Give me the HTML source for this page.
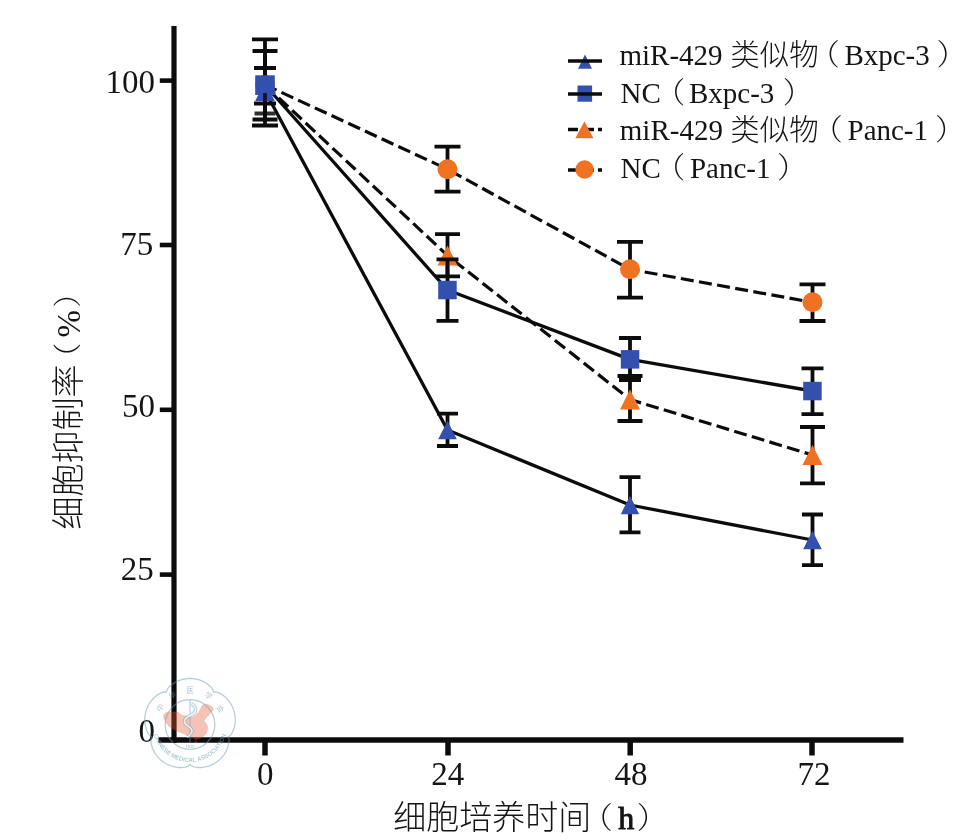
<!DOCTYPE html>
<html><head><meta charset="utf-8"><style>
html,body{margin:0;padding:0;background:#fff;}
body{width:975px;height:840px;overflow:hidden;}
svg{display:block;}
</style></head><body>
<svg width="975" height="840" viewBox="0 0 975 840">
<rect width="975" height="840" fill="#fff"/>
<path d="M174,26V743" stroke="#0c0c0c" stroke-width="5.2"/>
<path d="M158.5,740H903.5" stroke="#0c0c0c" stroke-width="5.6"/>
<path d="M159.8,80.6H174" stroke="#0c0c0c" stroke-width="4.6"/>
<path d="M159.8,245H174" stroke="#0c0c0c" stroke-width="4.6"/>
<path d="M159.8,409.8H174" stroke="#0c0c0c" stroke-width="4.6"/>
<path d="M159.8,574.6H174" stroke="#0c0c0c" stroke-width="4.6"/>
<path d="M265,740V755.5" stroke="#0c0c0c" stroke-width="5.5"/>
<path d="M448,740V755.5" stroke="#0c0c0c" stroke-width="5.5"/>
<path d="M630.2,740V755.5" stroke="#0c0c0c" stroke-width="5.5"/>
<path d="M812,740V755.5" stroke="#0c0c0c" stroke-width="5.5"/>
<path d="M265,84.8L447.5,169.2" fill="none" stroke="#0c0c0c" stroke-width="3.2" stroke-dasharray="13 5.4" stroke-dashoffset="0.3"/>
<path d="M447.5,169.2L630,269.3" fill="none" stroke="#0c0c0c" stroke-width="3.2" stroke-dasharray="13 5.4" stroke-dashoffset="15.6"/>
<path d="M630,269.3L812.5,302.3" fill="none" stroke="#0c0c0c" stroke-width="3.2" stroke-dasharray="13 5.4" stroke-dashoffset="3.5"/>
<path d="M265,85L447.5,255.5" fill="none" stroke="#0c0c0c" stroke-width="3.2" stroke-dasharray="13 5.4" stroke-dashoffset="-0.4"/>
<path d="M447.5,255.5L630,399.5" fill="none" stroke="#0c0c0c" stroke-width="3.2" stroke-dasharray="13 5.4" stroke-dashoffset="10.5"/>
<path d="M630,399.5L812.5,455" fill="none" stroke="#0c0c0c" stroke-width="3.2" stroke-dasharray="13 5.4" stroke-dashoffset="1.5"/>
<polyline points="265,85 447.5,290 630,359.4 812.5,391" fill="none" stroke="#0c0c0c" stroke-width="3.3" stroke-linejoin="round"/>
<polyline points="265,91 447.5,430 630,505 812.5,540" fill="none" stroke="#0c0c0c" stroke-width="3.3" stroke-linejoin="round"/>
<path d="M265,39.4V125.5M252.0,39.4H278.0M252.0,125.5H278.0" stroke="#0c0c0c" stroke-width="3.8" fill="none"/>
<path d="M447.5,146.7V191.7M434.5,146.7H460.5M434.5,191.7H460.5" stroke="#0c0c0c" stroke-width="3.8" fill="none"/>
<path d="M630,241.9V297.6M617.0,241.9H643.0M617.0,297.6H643.0" stroke="#0c0c0c" stroke-width="3.8" fill="none"/>
<path d="M812.5,284.3V321M799.5,284.3H825.5M799.5,321H825.5" stroke="#0c0c0c" stroke-width="3.8" fill="none"/>
<circle cx="265" cy="84.8" r="10.0" fill="#ef7222"/>
<circle cx="447.5" cy="169.2" r="10.0" fill="#ef7222"/>
<circle cx="630" cy="269.3" r="10.0" fill="#ef7222"/>
<circle cx="812.5" cy="302.3" r="10.0" fill="#ef7222"/>
<path d="M265,51V119.5M252.5,51H277.5M252.5,119.5H277.5" stroke="#0c0c0c" stroke-width="3.8" fill="none"/>
<path d="M447.5,234.1V276.3M435.0,234.1H460.0M435.0,276.3H460.0" stroke="#0c0c0c" stroke-width="3.8" fill="none"/>
<path d="M630,376V421M617.5,376H642.5M617.5,421H642.5" stroke="#0c0c0c" stroke-width="3.8" fill="none"/>
<path d="M812.5,427V483.3M800.0,427H825.0M800.0,483.3H825.0" stroke="#0c0c0c" stroke-width="3.8" fill="none"/>
<polygon points="265.0,75.0 275.0,95.0 255.0,95.0" fill="#ef7222"/>
<polygon points="447.5,245.5 457.5,265.5 437.5,265.5" fill="#ef7222"/>
<polygon points="630.0,389.5 640.0,409.5 620.0,409.5" fill="#ef7222"/>
<polygon points="812.5,445.0 822.5,465.0 802.5,465.0" fill="#ef7222"/>
<path d="M265,68V103.5M254.0,68H276.0M254.0,103.5H276.0" stroke="#0c0c0c" stroke-width="3.8" fill="none"/>
<path d="M447.5,259.3V320.8M436.5,259.3H458.5M436.5,320.8H458.5" stroke="#0c0c0c" stroke-width="3.8" fill="none"/>
<path d="M630,338V380M619.0,338H641.0M619.0,380H641.0" stroke="#0c0c0c" stroke-width="3.8" fill="none"/>
<path d="M812.5,368.3V414.2M801.5,368.3H823.5M801.5,414.2H823.5" stroke="#0c0c0c" stroke-width="3.8" fill="none"/>
<rect x="255.2" y="75.3" width="19.6" height="19.6" fill="#3350ae"/>
<rect x="438.2" y="280.8" width="18.5" height="18.5" fill="#3350ae"/>
<rect x="620.8" y="350.1" width="18.5" height="18.5" fill="#3350ae"/>
<rect x="803.2" y="381.8" width="18.5" height="18.5" fill="#3350ae"/>
<path d="M447.5,413.7V446M437.0,413.7H458.0M437.0,446H458.0" stroke="#0c0c0c" stroke-width="3.8" fill="none"/>
<path d="M630,477.2V532.4M619.5,477.2H640.5M619.5,532.4H640.5" stroke="#0c0c0c" stroke-width="3.8" fill="none"/>
<path d="M812.5,514.5V565.2M802.0,514.5H823.0M802.0,565.2H823.0" stroke="#0c0c0c" stroke-width="3.8" fill="none"/>
<polygon points="265,81.5 274.8,101 255.2,101" fill="#3350ae"/>
<polygon points="447.5,420.8 456.8,439.2 438.2,439.2" fill="#3350ae"/>
<polygon points="630.0,495.8 639.2,514.2 620.8,514.2" fill="#3350ae"/>
<polygon points="812.5,530.8 821.8,549.2 803.2,549.2" fill="#3350ae"/>
<path d="M265,93V113.5M254.5,113.5H275.5" stroke="#0c0c0c" stroke-width="3.8" fill="none" opacity="0.85"/>
<polygon points="585,54.6 592,68.7 578,68.7" fill="#3350ae"/>
<path d="M568,61H602" stroke="#0c0c0c" stroke-width="3.4"/>
<rect x="577.5" y="85.5" width="14.6" height="16.2" fill="#3350ae"/>
<path d="M568,94H602" stroke="#0c0c0c" stroke-width="3.4"/>
<path d="M568,129.5H602" stroke="#0c0c0c" stroke-width="3.4" stroke-dasharray="10 4 12 4"/>
<polygon points="584.4,121.2 593.4,138.3 575.4,138.3" fill="#ef7222"/>
<path d="M568,170H602" stroke="#0c0c0c" stroke-width="3.4" stroke-dasharray="10 4 12 4"/>
<circle cx="584.6" cy="169.5" r="9.2" fill="#ef7222"/>
<text x="619.5" y="64.8" style='font-family:"Liberation Serif", serif;font-size:29px;font-weight:400' fill="#151515">miR-429</text>
<text x="730.3" y="64.8" style='font-family:"Noto Sans CJK SC", sans-serif;font-size:29.5px;font-weight:300' fill="#151515">类似物</text>
<text x="810.2" y="64.8" style='font-family:"Noto Serif CJK SC", serif;font-size:29.5px;font-weight:200' fill="#151515">（</text>
<text x="844.4" y="64.8" style='font-family:"Liberation Serif", serif;font-size:29px;font-weight:400' fill="#151515">Bxpc-3</text>
<text x="936.5" y="64.8" style='font-family:"Noto Serif CJK SC", serif;font-size:29.5px;font-weight:200' fill="#151515">）</text>
<text x="620.6" y="102.5" style='font-family:"Liberation Serif", serif;font-size:29px;font-weight:400' fill="#151515">NC</text>
<text x="655.8" y="102.5" style='font-family:"Noto Serif CJK SC", serif;font-size:29.5px;font-weight:200' fill="#151515">（</text>
<text x="689.0" y="102.5" style='font-family:"Liberation Serif", serif;font-size:29px;font-weight:400' fill="#151515">Bxpc-3</text>
<text x="782.8" y="102.5" style='font-family:"Noto Serif CJK SC", serif;font-size:29.5px;font-weight:200' fill="#151515">）</text>
<text x="619.8" y="140.3" style='font-family:"Liberation Serif", serif;font-size:29px;font-weight:400' fill="#151515">miR-429</text>
<text x="730.2" y="140.3" style='font-family:"Noto Sans CJK SC", sans-serif;font-size:29.5px;font-weight:300' fill="#151515">类似物</text>
<text x="813.3" y="140.3" style='font-family:"Noto Serif CJK SC", serif;font-size:29.5px;font-weight:200' fill="#151515">（</text>
<text x="847.5" y="140.3" style='font-family:"Liberation Serif", serif;font-size:29px;font-weight:400' fill="#151515">Panc-1</text>
<text x="935.0" y="140.3" style='font-family:"Noto Serif CJK SC", serif;font-size:29.5px;font-weight:200' fill="#151515">）</text>
<text x="620.6" y="177.5" style='font-family:"Liberation Serif", serif;font-size:29px;font-weight:400' fill="#151515">NC</text>
<text x="655.8" y="177.5" style='font-family:"Noto Serif CJK SC", serif;font-size:29.5px;font-weight:200' fill="#151515">（</text>
<text x="689.9" y="177.5" style='font-family:"Liberation Serif", serif;font-size:29px;font-weight:400' fill="#151515">Panc-1</text>
<text x="777.0" y="177.5" style='font-family:"Noto Serif CJK SC", serif;font-size:29.5px;font-weight:200' fill="#151515">）</text>
<text x="105.5" y="92.9" style='font-family:"Liberation Serif", serif;font-size:33px;font-weight:400' fill="#151515">100</text>
<text x="120.3" y="255" style='font-family:"Liberation Serif", serif;font-size:33px;font-weight:400' fill="#151515">75</text>
<text x="122.0" y="416.6" style='font-family:"Liberation Serif", serif;font-size:33px;font-weight:400' fill="#151515">50</text>
<text x="120.8" y="579.7" style='font-family:"Liberation Serif", serif;font-size:33px;font-weight:400' fill="#151515">25</text>
<text x="138.4" y="741.5" style='font-family:"Liberation Serif", serif;font-size:33px;font-weight:400' fill="#151515">0</text>
<text x="257.0" y="784.7" style='font-family:"Liberation Serif", serif;font-size:33px;font-weight:400' fill="#151515">0</text>
<text x="431.2" y="785" style='font-family:"Liberation Serif", serif;font-size:33px;font-weight:400' fill="#151515">24</text>
<text x="614.5" y="785" style='font-family:"Liberation Serif", serif;font-size:33px;font-weight:400' fill="#151515">48</text>
<text x="797.4" y="784.6" style='font-family:"Liberation Serif", serif;font-size:33px;font-weight:400' fill="#151515">72</text>
<text x="393.2" y="829" style='font-family:"Noto Sans CJK SC", sans-serif;font-size:33px;font-weight:300' fill="#151515">细胞培养时间</text>
<text x="582.7" y="828" style='font-family:"Noto Serif CJK SC", serif;font-size:30px;font-weight:200' fill="#151515">（</text>
<text x="618.3" y="829" style='font-family:"Liberation Serif", serif;font-size:32px;font-weight:400' fill="#151515" stroke="#151515" stroke-width="0.9">h</text>
<text x="636.7" y="828" style='font-family:"Noto Serif CJK SC", serif;font-size:30px;font-weight:200' fill="#151515">）</text>
<g transform="translate(80,0) rotate(-90)"><text x="-529.6" y="0" style='font-family:"Noto Sans CJK SC", sans-serif;font-size:33px;font-weight:300' fill="#151515">细胞抑制率</text>
<text x="-371.3" y="-2" style='font-family:"Noto Serif CJK SC", serif;font-size:28.5px;font-weight:200' fill="#151515">（</text>
<text x="-337.4" y="0" style='font-family:"Liberation Serif", serif;font-size:33px;font-weight:400' fill="#151515">%</text>
<text x="-307.5" y="-2" style='font-family:"Noto Serif CJK SC", serif;font-size:28.5px;font-weight:200' fill="#151515">）</text></g>
<g transform="translate(190,724.5)">
<defs>
<path id="wmTop" d="M-33,0 A33,33 0 0 1 33,0"/>
<path id="wmBot" d="M-37.5,0 A37.5,37.5 0 0 0 37.5,0"/>
</defs>
<path d="M-26.4,-9.6 L-24,-12 L-19.9,-12.6 L-12.1,-12.6 L-10,-10.8 L-7.4,-9 L-3,-8.5 L2.1,-7.2 L5.7,-9.6 L8.7,-12.6 L10.5,-15.6 L11.7,-18.5 L13.5,-20.3 L17.6,-20.3 L22.4,-17.4 L23.6,-15 L21.2,-12.6 L18.8,-9.6 L17,-7.8 L15.2,-5.5 L14,-3.7 L16.4,-0.7 L17.6,2.3 L17.6,5.3 L16.4,8.8 L14,11.2 L11.7,13 L8.7,14.2 L5.7,15.4 L4,14 L2.1,12.4 L-1.4,11.8 L-5,10 L-7.4,8.8 L-12.1,7 L-18.1,4.1 L-22.3,0.5 L-24.6,-3.1 L-26.4,-6.6Z" fill="#e15a32" opacity="0.36"/>
<ellipse cx="5.7" cy="17.2" rx="1.3" ry="1" fill="#e15a32" opacity="0.36"/>
<path d="M-26.4,-9.6 L-24,-12 L-19.9,-12.6 L-12.1,-12.6 L-10,-10.8 L-7.4,-9 L-3,-8.5 L2.1,-7.2 L5.7,-9.6 L8.7,-12.6 L10.5,-15.6 L11.7,-18.5 L13.5,-20.3 L17.6,-20.3 L22.4,-17.4 L23.6,-15 L21.2,-12.6 L18.8,-9.6 L17,-7.8 L15.2,-5.5 L14,-3.7 L16.4,-0.7 L17.6,2.3 L17.6,5.3 L16.4,8.8 L14,11.2 L11.7,13 L8.7,14.2 L5.7,15.4 L4,14 L2.1,12.4 L-1.4,11.8 L-5,10 L-7.4,8.8 L-12.1,7 L-18.1,4.1 L-22.3,0.5 L-24.6,-3.1 L-26.4,-6.6Z" fill="none" stroke="#e15a32" stroke-width="0.8" opacity="0.2"/>
<g opacity="0.5" stroke="#6ea0b4" fill="none">
<path d="M0.0,-46.0 L1.4,-46.0 L2.9,-45.9 L4.3,-45.7 L5.7,-45.5 L7.2,-45.2 L8.5,-44.8 L9.9,-44.4 L11.3,-43.9 L12.6,-43.3 L13.9,-42.7 L15.1,-42.0 L16.3,-41.2 L17.5,-40.4 L18.6,-39.6 L19.7,-38.6 L20.7,-37.7 L21.6,-36.6 L22.5,-35.4 L23.2,-34.2 L23.5,-32.4 L25.3,-32.6 L26.8,-32.3 L28.1,-31.9 L29.4,-31.3 L30.7,-30.7 L31.9,-29.9 L33.1,-29.1 L34.2,-28.3 L35.3,-27.4 L36.3,-26.4 L37.3,-25.3 L38.2,-24.3 L39.1,-23.1 L40.0,-22.0 L40.7,-20.8 L41.5,-19.5 L42.1,-18.2 L42.7,-16.9 L43.3,-15.6 L43.7,-14.2 L44.2,-12.8 L44.5,-11.4 L44.8,-10.0 L45.0,-8.6 L45.2,-7.2 L45.2,-5.7 L45.3,-4.3 L45.2,-2.8 L45.1,-1.4 L44.9,0.0 L44.6,1.4 L44.3,2.8 L43.9,4.1 L43.4,5.5 L42.8,6.8 L42.2,8.1 L41.5,9.3 L40.7,10.4 L39.7,11.5 L38.0,12.4 L38.9,14.0 L39.0,15.5 L39.0,16.9 L38.9,18.3 L38.6,19.7 L38.3,21.1 L37.9,22.4 L37.5,23.8 L36.9,25.1 L36.3,26.4 L35.6,27.6 L34.9,28.9 L34.1,30.1 L33.2,31.2 L32.3,32.3 L31.4,33.4 L30.4,34.4 L29.3,35.4 L28.2,36.3 L27.0,37.2 L25.8,38.0 L24.6,38.8 L23.4,39.5 L22.1,40.2 L20.8,40.7 L19.4,41.3 L18.1,41.7 L16.7,42.1 L15.3,42.4 L13.9,42.7 L12.5,42.9 L11.0,43.0 L9.6,43.0 L8.2,43.0 L6.8,42.8 L5.4,42.6 L4.0,42.3 L2.6,41.9 L1.3,41.3 L0.0,40.0 L-1.3,41.3 L-2.6,41.9 L-4.0,42.3 L-5.4,42.6 L-6.8,42.8 L-8.2,43.0 L-9.6,43.0 L-11.0,43.0 L-12.5,42.9 L-13.9,42.7 L-15.3,42.4 L-16.7,42.1 L-18.1,41.7 L-19.4,41.3 L-20.8,40.7 L-22.1,40.2 L-23.4,39.5 L-24.6,38.8 L-25.8,38.0 L-27.0,37.2 L-28.2,36.3 L-29.3,35.4 L-30.4,34.4 L-31.4,33.4 L-32.3,32.3 L-33.2,31.2 L-34.1,30.1 L-34.9,28.9 L-35.6,27.6 L-36.3,26.4 L-36.9,25.1 L-37.5,23.8 L-37.9,22.4 L-38.3,21.1 L-38.6,19.7 L-38.9,18.3 L-39.0,16.9 L-39.0,15.5 L-38.9,14.0 L-38.0,12.4 L-39.7,11.5 L-40.7,10.4 L-41.5,9.3 L-42.2,8.1 L-42.8,6.8 L-43.4,5.5 L-43.9,4.1 L-44.3,2.8 L-44.6,1.4 L-44.9,0.0 L-45.1,-1.4 L-45.2,-2.8 L-45.3,-4.3 L-45.2,-5.7 L-45.2,-7.2 L-45.0,-8.6 L-44.8,-10.0 L-44.5,-11.4 L-44.2,-12.8 L-43.7,-14.2 L-43.3,-15.6 L-42.7,-16.9 L-42.1,-18.2 L-41.5,-19.5 L-40.7,-20.8 L-40.0,-22.0 L-39.1,-23.1 L-38.2,-24.3 L-37.3,-25.3 L-36.3,-26.4 L-35.3,-27.4 L-34.2,-28.3 L-33.1,-29.1 L-31.9,-29.9 L-30.7,-30.7 L-29.4,-31.3 L-28.1,-31.9 L-26.8,-32.3 L-25.3,-32.6 L-23.5,-32.4 L-23.2,-34.2 L-22.5,-35.4 L-21.6,-36.6 L-20.7,-37.7 L-19.7,-38.6 L-18.6,-39.6 L-17.5,-40.4 L-16.3,-41.2 L-15.1,-42.0 L-13.9,-42.7 L-12.6,-43.3 L-11.3,-43.9 L-9.9,-44.4 L-8.5,-44.8 L-7.2,-45.2 L-5.7,-45.5 L-4.3,-45.7 L-2.9,-45.9 L-1.4,-46.0Z" stroke-width="1.3"/>
<circle r="24.8" stroke-width="1.3"/>
<path d="M0,-25V18" stroke-width="1.2"/>
<path d="M1,-21 C7,-18 7,-13 2,-10 C-4,-7 -8,-4 -4,0 C0,3 4,5 1,9 C0,11 -2,12 -3,12.5" stroke-width="3.4"/>
</g>
<path d="M1,-21 C7,-18 7,-13 2,-10 C-4,-7 -8,-4 -4,0 C0,3 4,5 1,9 C0,11 -2,12 -3,12.5" stroke="#fff" stroke-width="1.6" fill="none" opacity="0.8"/>
<g fill="#6ea0b4" opacity="0.55" style="font-family:'Noto Sans CJK SC',sans-serif;font-size:7.5px" text-anchor="middle">
<text transform="rotate(-60.6) translate(0,-31.5)">中</text>
<text transform="rotate(-31.0) translate(0,-31.5)">华</text>
<text transform="rotate(0.0) translate(0,-31.5)">医</text>
<text transform="rotate(33.0) translate(0,-31.5)">学</text>
<text transform="rotate(62.5) translate(0,-31.5)">会</text>
</g>
<g fill="#6ea0b4" opacity="0.55" style="font-family:'Liberation Sans',sans-serif;font-size:6px;font-weight:bold" text-anchor="middle">
<text><textPath href="#wmBot" startOffset="50%" textLength="97" lengthAdjust="spacingAndGlyphs">CHINESE MEDICAL ASSOCIATION</textPath></text>
<text x="0" y="23.5" style="font-size:4px">1915</text>
</g>
</g>
</svg>
</body></html>
